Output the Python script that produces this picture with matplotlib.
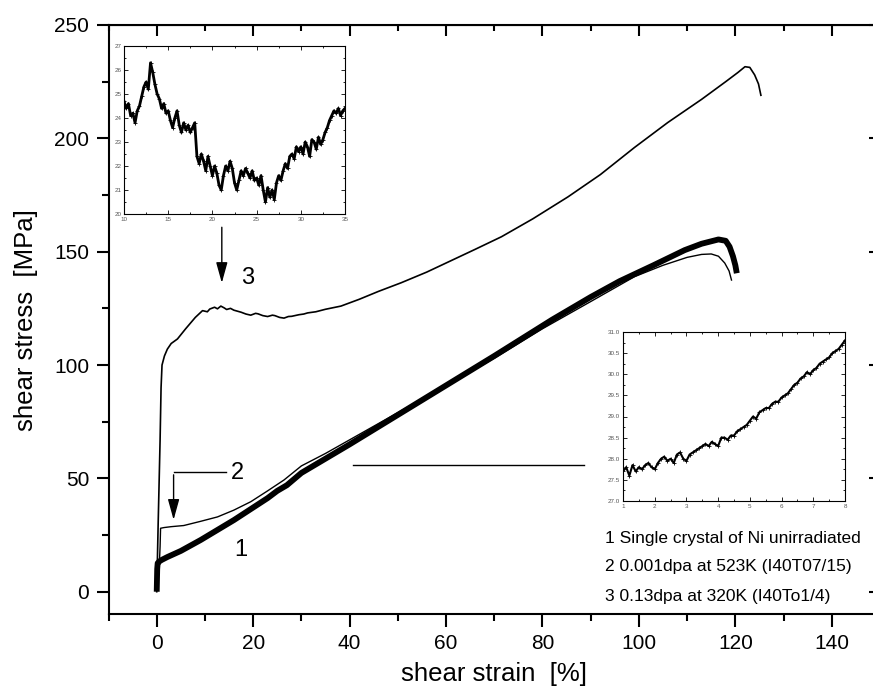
import numpy as np
import matplotlib
matplotlib.use("Agg")
import matplotlib.pyplot as plt
from matplotlib.ticker import MultipleLocator, FormatStrFormatter

plt.rcParams['font.family'] = ['Liberation Sans', 'DejaVu Sans']

# curve 1: single crystal of Ni, unirradiated (thick)
strain_1 = [0, 0.05, 0.1, 0.2, 0.5, 1, 2.2, 5, 9.1, 16, 23, 25, 27, 30, 40, 50,
            60, 70, 82, 90, 96, 103, 109.5, 113, 116.5, 118, 118.8, 119.5, 120, 120.3]
stress_1 = [0, 5, 10, 12.6, 13.3, 14, 15.3, 18, 22.8, 31.6, 41.3, 44.5, 47, 52.4, 65, 78,
            91, 104, 120, 130, 137, 144, 150.7, 153.5, 155.4, 154.8, 152.2, 148, 144, 140.5]

# curve 2: 0.001 dpa at 523K
strain_2 = [0.5, 0.7, 0.8, 1.5, 3, 5.6, 9, 12.6, 16, 19.5, 23, 26.4, 30, 35, 40, 50, 60,
            70, 80, 90, 99.1, 105, 110, 113, 115, 116.5, 117.8, 118.7, 119.2]
stress_2 = [10, 20, 28, 28.3, 28.7, 29.2, 31, 33, 36, 39.7, 44.5, 49.3, 55.5, 61, 67, 79, 91,
            103, 116, 128, 139, 144, 147.5, 148.8, 149, 148, 145, 141.5, 137.5]

# curve 3: 0.13 dpa at 320K
strain_3 = [0, 0.3, 0.7, 0.9, 1.1, 1.6, 2.2, 3.0, 4.3, 6, 8, 9.5, 10.5, 11, 12, 12.6, 13.3,
            14, 14.5, 15.3, 16, 17, 17.5, 18.5, 19.5, 20.5, 21, 22, 23, 24, 24.5, 25.5,
            26.4, 27.3, 28, 29.5, 30.5, 31.3, 33, 35, 38.2, 42, 46, 50.7, 56, 61, 66,
            71.5, 78, 85.3, 92, 99.1, 106, 113, 118, 120.5, 122, 123, 124, 124.8, 125.3]
stress_3 = [0, 30, 67, 90, 100, 104, 107, 109.5, 111.5, 116, 121, 124, 123.5, 124.7, 125.5, 124.8, 126,
            125.2, 124.5, 125, 124.2, 123.6, 123.3, 122.5, 122, 122.8, 122.6, 121.8, 121.4, 122, 121.8, 121,
            120.7, 121.4, 121.5, 122.2, 122.5, 123, 123.5, 124.6, 126, 129, 132.5, 136.3, 141, 146, 151,
            156.6, 164.5, 174.2, 184, 196, 207, 217.2, 225, 229, 231.6, 231.3, 228, 224, 219]

# inset 1: detail of curve 3 plateau
inset1_x = [10.0 + 0.25 * i for i in range(101)]
inset1_y = [24.7, 24.4, 24.6, 24.1, 24.2, 23.8, 24.3, 24.5, 24.9, 25.3, 25.5, 25.2, 26.3, 25.9,
            25.4, 25.0, 24.8, 24.4, 24.6, 24.2, 24.3, 23.9, 23.6, 24.0, 24.3, 23.7, 23.4, 23.8,
            23.5, 23.7, 23.4, 23.6, 23.8, 22.4, 22.1, 22.5, 22.2, 21.8, 22.4, 22.0, 21.6, 22.0,
            21.7, 21.2, 21.0, 21.6, 22.0, 21.8, 22.2, 21.9, 21.3, 21.0, 21.4, 21.8, 21.6, 21.9,
            21.7, 21.5, 21.8, 21.4, 21.5, 21.2, 21.6, 21.0, 20.5, 21.1, 20.7, 21.0, 20.6, 21.3,
            21.6, 21.4, 21.8, 22.1, 21.9, 22.4, 22.5, 22.3, 22.8, 22.6, 22.8, 22.5, 23.0, 22.8,
            22.4, 23.1, 23.0, 22.7, 23.2, 22.9, 23.1, 23.4, 23.6, 23.9, 24.1, 24.3, 24.2, 24.4,
            24.1, 24.3, 24.4]

# inset 2: detail of curve 2 start
inset2_x = [1.0 + 0.1 * i for i in range(71)]
inset2_y = [27.7, 27.8, 27.6, 27.85, 27.7, 27.8, 27.75, 27.85, 27.9, 27.8, 27.75, 27.9, 28.0,
            28.05, 27.95, 28.0, 27.9, 28.1, 28.15, 28.0, 27.95, 28.1, 28.15, 28.2, 28.25, 28.3,
            28.35, 28.3, 28.4, 28.35, 28.3, 28.5, 28.5, 28.45, 28.55, 28.55, 28.65, 28.7, 28.75,
            28.8, 28.9, 29.0, 28.95, 29.1, 29.15, 29.2, 29.2, 29.3, 29.35, 29.35, 29.45, 29.5,
            29.55, 29.65, 29.75, 29.8, 29.9, 29.95, 30.05, 30.0, 30.1, 30.15, 30.25, 30.3, 30.35,
            30.4, 30.5, 30.55, 30.6, 30.7, 30.8]

legend_lines = ["1 Single crystal of Ni unirradiated",
                "2 0.001dpa at 523K (I40T07/15)",
                "3 0.13dpa at 320K (I40To1/4)"]

W, H = 873, 691
fig = plt.figure(figsize=(W / 100, H / 100), dpi=100)


def px(x, y):
    return x / W, 1 - y / H


ax = fig.add_axes([108.5 / W, 1 - 614.4 / H, (880 - 108.5) / W, (614.4 - 25) / H])
ax.plot(strain_1, stress_1, color='black', lw=4.2, solid_capstyle='butt', zorder=3)
ax.plot(strain_2, stress_2, color='black', lw=1.0, zorder=4)
ax.plot(strain_3, stress_3, color='black', lw=1.2, zorder=4)

ax.set_xlim(-10, 150)
ax.set_ylim(-10, 250)
ax.xaxis.set_major_locator(MultipleLocator(20))
ax.xaxis.set_minor_locator(MultipleLocator(10))
ax.yaxis.set_major_locator(MultipleLocator(50))
ax.yaxis.set_minor_locator(MultipleLocator(25))
ax.tick_params(which='major', direction='out', length=9, width=1.5, labelsize=15, pad=5)
ax.tick_params(which='minor', direction='out', length=5, width=1.5)
for s in ax.spines.values():
    s.set_linewidth(1.5)

top = ax.secondary_xaxis('top')
top.xaxis.set_major_locator(MultipleLocator(20))
top.xaxis.set_minor_locator(MultipleLocator(10))
top.tick_params(which='major', direction='in', length=8, width=1.5, labeltop=False)
top.tick_params(which='minor', direction='in', length=4, width=1.5)
right = ax.secondary_yaxis('right')
right.yaxis.set_major_locator(MultipleLocator(50))
right.yaxis.set_minor_locator(MultipleLocator(25))
right.tick_params(which='major', direction='in', length=8, width=1.5, labelright=False)
right.tick_params(which='minor', direction='in', length=4, width=1.5)

fig.text(*px(494, 674), "shear strain  [%]", fontsize=18.5, ha='center', va='center')
fig.text(*px(26, 320), "shear stress  [MPa]", fontsize=18.5, ha='center', va='center',
         rotation=90)

for i, line in enumerate(legend_lines):
    fig.text(*px(605, 538 + 29 * i), line, fontsize=12.5, ha='left', va='center')

# curve labels and arrows
ax.text(18.9, 138.5, "3", fontsize=17, ha='center', va='center')
ax.text(16.8, 52.4, "2", fontsize=17, ha='center', va='center')
ax.text(17.4, 18.4, "1", fontsize=17, ha='center', va='center')
ax.annotate("", xy=(13.5, 135), xytext=(13.5, 162),
            arrowprops=dict(arrowstyle='-|>,head_length=0.9,head_width=0.25',
                            color='black', lw=1.0, mutation_scale=14))
ax.plot([14.3, 3.5], [52.8, 52.8], color='black', lw=1.0)
ax.annotate("", xy=(3.5, 30.5), xytext=(3.5, 52.8),
            arrowprops=dict(arrowstyle='-|>,head_length=0.9,head_width=0.25',
                            color='black', lw=1.0, mutation_scale=14))
ax.plot([40.7, 88.7], [55.9, 55.9], color='black', lw=1.0)


def style_inset(a):
    for s in a.spines.values():
        s.set_linewidth(0.8)
    a.tick_params(which='both', direction='in', top=True, right=True, width=0.6,
                  labelsize=4.5, labelcolor='#555555', pad=2)
    a.tick_params(which='major', length=3)
    a.tick_params(which='minor', length=1.5)


in1 = fig.add_axes([124 / W, 1 - 214 / H, (345 - 124) / W, (214 - 46) / H])
in1.plot(inset1_x, inset1_y, color='black', lw=2.0, marker='+', ms=3, mew=0.6)
in1.set_xlim(10, 35)
in1.set_ylim(20, 27)
in1.xaxis.set_major_locator(MultipleLocator(5))
in1.xaxis.set_minor_locator(MultipleLocator(2.5))
in1.yaxis.set_major_locator(MultipleLocator(1))
in1.yaxis.set_minor_locator(MultipleLocator(0.5))
style_inset(in1)

in2 = fig.add_axes([623 / W, 1 - 501 / H, (845 - 623) / W, (501 - 332) / H])
in2.plot(inset2_x, inset2_y, color='black', lw=1.5, marker='+', ms=3, mew=0.6)
in2.set_xlim(1, 8)
in2.set_ylim(27.0, 31.0)
in2.xaxis.set_major_locator(MultipleLocator(1))
in2.xaxis.set_minor_locator(MultipleLocator(0.5))
in2.yaxis.set_major_locator(MultipleLocator(0.5))
in2.yaxis.set_minor_locator(MultipleLocator(0.25))
in2.yaxis.set_major_formatter(FormatStrFormatter('%.1f'))
style_inset(in2)

fig.savefig("out.png", dpi=100)
